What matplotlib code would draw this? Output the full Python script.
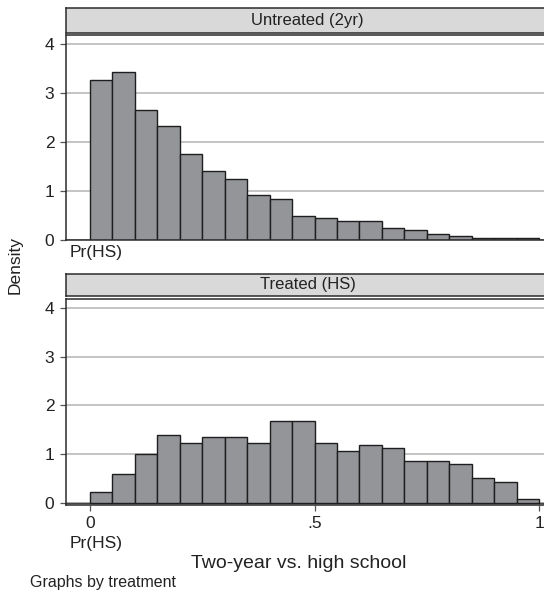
import numpy as np
import matplotlib.pyplot as plt

plt.rcParams['font.family'] = ['Liberation Sans', 'DejaVu Sans']

# --- histogram data (bin width .05 on [0, 1]) ---
bin_edges = np.round(np.arange(0, 1.0001, 0.05), 2)
untreated = [3.27, 3.43, 2.64, 2.32, 1.75, 1.39, 1.23, 0.91, 0.83, 0.48,
             0.43, 0.37, 0.37, 0.24, 0.20, 0.115, 0.075, 0.034, 0.034, 0.034]
treated = [0.23, 0.59, 1.00, 1.40, 1.24, 1.36, 1.36, 1.24, 1.68, 1.68,
           1.24, 1.07, 1.19, 1.12, 0.87, 0.87, 0.79, 0.51, 0.43, 0.075]
panels = ["Untreated (2yr)", "Treated (HS)"]
y_ticks = [0, 1, 2, 3, 4]
x_ticks = [0, 0.5, 1]
x_ticklabels = ["0", ".5", "1"]

W, H = 544, 595
fig = plt.figure(figsize=(W / 100, H / 100), dpi=100)

def px_box(x0, y0, x1, y1):
    return [x0 / W, 1 - y1 / H, (x1 - x0) / W, (y1 - y0) / H]

bar_col = "#939598"
edge_col = "#1e1e1e"
frame_col = "#2b2b2b"
grid_col = "#b4b4b4"
text_col = "#222222"

layout = [
    dict(strip=(66, 7.5, 546, 32.5), plot=(66, 34.5, 546, 239.5), ylim=(0, 4.19)),
    dict(strip=(66, 273.5, 546, 296), plot=(66, 298.5, 546, 504.5), ylim=(-0.03, 4.19)),
]

for i, (name, vals) in enumerate(zip(panels, [untreated, treated])):
    lay = layout[i]
    ax = fig.add_axes(px_box(*lay["plot"]))
    ax.set_xlim(-0.053, 1.015)
    ax.set_ylim(*lay["ylim"])
    ax.set_yticks(y_ticks)
    ax.yaxis.grid(True, color=grid_col, lw=1.1)
    ax.set_axisbelow(True)
    ax.axhline(0, color="#444444", lw=1, zorder=1)
    ax.bar(bin_edges[:-1], vals, width=0.05, align="edge", color=bar_col,
           edgecolor=edge_col, linewidth=1.0, zorder=2)
    for s in ax.spines.values():
        s.set_color(frame_col)
        s.set_linewidth(1.1)
    ax.tick_params(axis="y", length=4.3, width=0.9, color="#555555", pad=4,
                   labelsize=12.5, labelcolor=text_col)
    if i == 0:
        ax.set_xticks([])
        ax.text(0.013, -0.062, "Pr(HS)", transform=ax.get_xaxis_transform(),
                ha="center", va="center", fontsize=12.5, color=text_col)
    else:
        ax.set_xticks(x_ticks)
        ax.set_xticklabels(x_ticklabels)
        ax.tick_params(axis="x", length=4.3, width=0.9, color="#555555", pad=4,
                       labelsize=12.5, labelcolor=text_col)
        ax.text(0.013, -0.188, "Pr(HS)", transform=ax.get_xaxis_transform(),
                ha="center", va="center", fontsize=12.5, color=text_col)
    # strip title
    sax = fig.add_axes(px_box(*lay["strip"]))
    sax.set_facecolor("#d9d9d9")
    sax.set_xticks([])
    sax.set_yticks([])
    for s in sax.spines.values():
        s.set_color(frame_col)
        s.set_linewidth(1.1)
    sax.text((307.5 - 66) / (546 - 66), 0.5, name, transform=sax.transAxes,
             ha="center", va="center", fontsize=12, color=text_col)

fig.text(15 / W, 1 - 265 / H, "Density", rotation=90, ha="center", va="center",
         fontsize=12.5, color=text_col)
fig.text(299 / W, 1 - 563 / H, "Two-year vs. high school", ha="center", va="center",
         fontsize=14, color=text_col)
fig.text(30 / W, 1 - 582 / H, "Graphs by treatment", ha="left", va="center",
         fontsize=11.5, color=text_col)

fig.savefig("out.png", dpi=100, facecolor="white")
